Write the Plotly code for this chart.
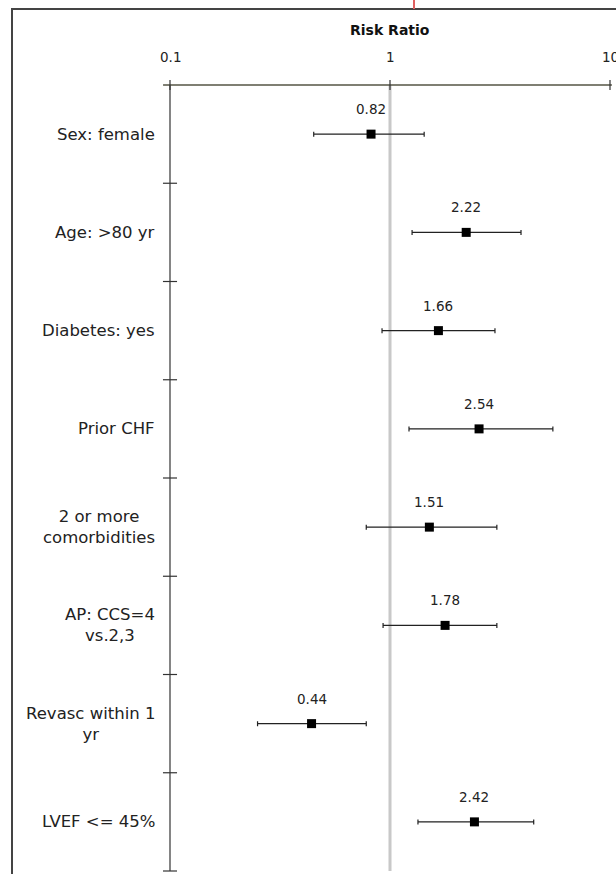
import numpy as np
import plotly.graph_objects as go

# Risk ratios with 95% confidence limits, one row per predictor
labels = [
    "Sex: female",
    "Age: >80 yr",
    "Diabetes: yes",
    "Prior CHF",
    "2 or more<br>comorbidities",
    "AP: CCS=4<br>vs.2,3",
    "Revasc within 1<br>yr",
    "LVEF <= 45%",
]
risk_ratio = [0.82, 2.22, 1.66, 2.54, 1.51, 1.78, 0.44, 2.42]
ci_low = [0.45, 1.26, 0.92, 1.22, 0.78, 0.93, 0.25, 1.34]
ci_high = [1.43, 3.94, 3.00, 5.50, 3.06, 3.06, 0.78, 4.50]
axis_ticks = [0.1, 1, 10]
axis_tick_text = ["0.1", "1", "10"]

W, H = 616, 874
FONT = "DejaVu Sans"

rows = list(range(len(labels)))
rr = np.array(risk_ratio)
err_plus = np.array(ci_high) - rr
err_minus = rr - np.array(ci_low)

fig = go.Figure()

fig.add_trace(go.Scatter(
    x=risk_ratio, y=rows, mode="markers",
    marker=dict(symbol="square", size=9, color="black"),
    error_x=dict(type="data", symmetric=False, array=err_plus,
                 arrayminus=err_minus, color="#222222", thickness=1.2, width=2.5),
    hoverinfo="skip", showlegend=False,
))

shapes = []
# reference line at RR = 1
shapes.append(dict(type="line", xref="x", yref="y", x0=1, x1=1,
                   y0=-0.5, y1=7.5, line=dict(color="#c8c8c8", width=3),
                   layer="below"))
# left vertical axis at 0.1 with row separators
shapes.append(dict(type="line", xref="x", yref="y", x0=0.1, x1=0.1,
                   y0=-0.5, y1=7.5, line=dict(color="#333333", width=1.2)))
for k in range(1, len(labels) + 1):
    yb = k - 0.5
    shapes.append(dict(type="line", xref="x", yref="y",
                       x0=0.1 / 10 ** 0.032, x1=0.1 * 10 ** 0.032,
                       y0=yb, y1=yb, line=dict(color="#333333", width=1.2)))
# top log axis
shapes.append(dict(type="line", xref="x", yref="y", x0=0.093, x1=10.2,
                   y0=-0.5, y1=-0.5, line=dict(color="#555544", width=1.6)))
for t in axis_ticks:
    shapes.append(dict(type="line", xref="x", yref="y", x0=t, x1=t,
                       y0=-0.5 - 0.05, y1=-0.5 + 0.05,
                       line=dict(color="#333333", width=1.2)))
# outer frame
shapes.append(dict(type="rect", xref="paper", yref="paper",
                   x0=12 / W, x1=1.02, y0=-0.02, y1=1 - 9 / H,
                   line=dict(color="#444444", width=2), fillcolor="rgba(0,0,0,0)"))
# small red mark above the frame
shapes.append(dict(type="line", xref="paper", yref="paper",
                   x0=414 / W, x1=414 / W, y0=1 - 9 / H, y1=1.0,
                   line=dict(color="#e06060", width=2)))

annotations = []
# axis title and tick labels
annotations.append(dict(x=np.log10(1), y=-0.5, xref="x", yref="y",
                        text="<b>Risk Ratio</b>", showarrow=False, yshift=55,
                        font=dict(family=FONT, size=14, color="#111111")))
for t, txt in zip(axis_ticks, axis_tick_text):
    annotations.append(dict(x=np.log10(t), y=-0.5, xref="x", yref="y",
                            text=txt, showarrow=False, yshift=28,
                            font=dict(family=FONT, size=13.5, color="#222222")))
# value labels above the squares
for i, v in enumerate(risk_ratio):
    annotations.append(dict(x=np.log10(v), y=i, xref="x", yref="y",
                            text=f"{v:.2f}", showarrow=False, yshift=25,
                            font=dict(family=FONT, size=13.5, color="#222222")))
# row labels
for i, lab in enumerate(labels):
    annotations.append(dict(x=157 / W, y=i, xref="paper", yref="y",
                            text=lab, showarrow=False, xanchor="right",
                            align="center",
                            font=dict(family=FONT, size=16.5, color="#222222")))

# pixel-aligned scales: 0.1 -> x=170, 1 -> x=390, 10 -> x=610 (220 px per decade)
x_lo = (0 - 390) / 220
x_hi = (W - 390) / 220
row_px = 98.25
y_top = -0.5 - 85 / row_px
y_bot = 7.5 + (H - 871) / row_px

fig.update_layout(
    width=W, height=H,
    margin=dict(l=0, r=0, t=0, b=0),
    paper_bgcolor="white", plot_bgcolor="white",
    xaxis=dict(type="log", range=[x_lo, x_hi], visible=False, fixedrange=True),
    yaxis=dict(range=[y_bot, y_top], visible=False, fixedrange=True),
    shapes=shapes, annotations=annotations,
)

fig.write_html("out.html")
